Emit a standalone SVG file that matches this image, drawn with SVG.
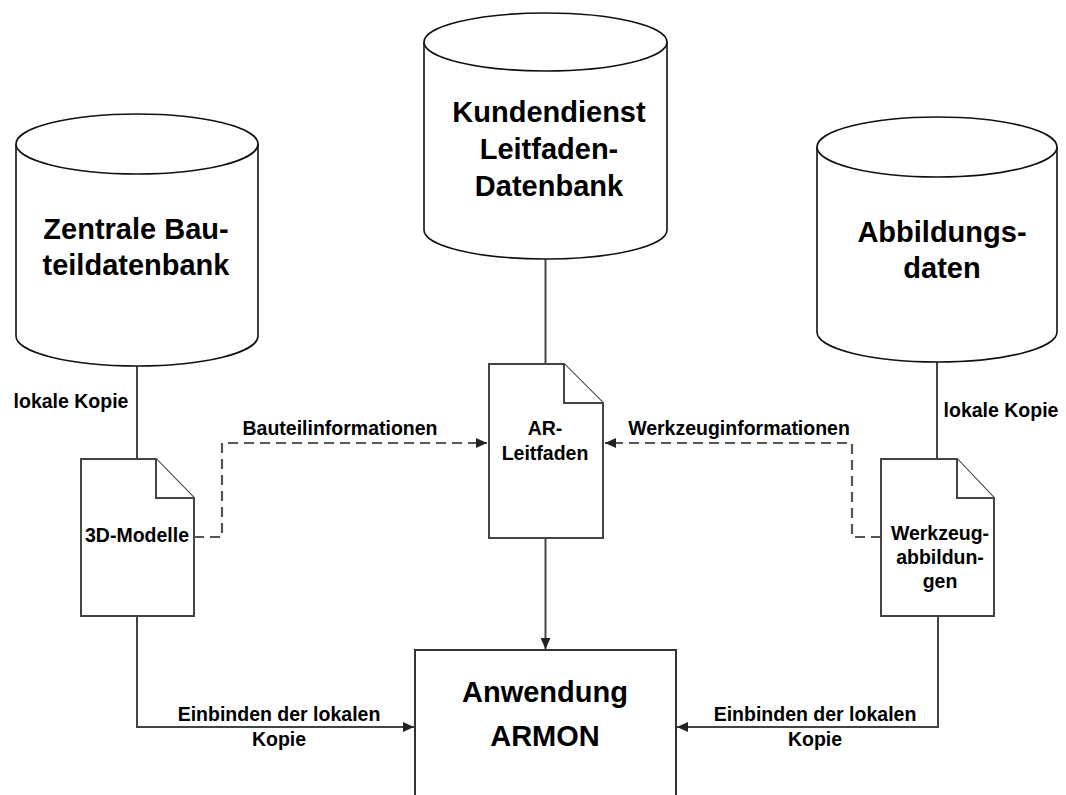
<svg xmlns="http://www.w3.org/2000/svg" width="1066" height="795" viewBox="0 0 1066 795">
<defs>
<marker id="arr" markerUnits="userSpaceOnUse" markerWidth="12" markerHeight="10" refX="11" refY="5" orient="auto">
<path d="M0,0 L11,5 L0,10 Z" fill="#222"/>
</marker>
<style>
.cyl{fill:#fff;stroke:#111;stroke-width:1.6}
.doc{fill:#fff;stroke:#444;stroke-width:2}
.box{fill:#fff;stroke:#333;stroke-width:2}
.ln{fill:none;stroke:#444;stroke-width:2}
.dash{fill:none;stroke:#555;stroke-width:2.2;stroke-dasharray:10,6}
.t{font-family:"Liberation Sans",Arial,sans-serif;font-weight:bold;fill:#000;text-anchor:middle}
.big{font-size:29px}
.sm{font-size:19.5px}
</style>
</defs>
<rect width="1066" height="795" fill="#fff"/>

<g id="connectors">
<path class="ln" d="M137,366 V459"/>
<path class="ln" d="M545.5,259 V364"/>
<path class="ln" d="M937,362 V459"/>
<path class="dash" d="M194,537 H222 V443 H487" marker-end="url(#arr)"/>
<path class="dash" d="M881,537 H852 V443 H605" marker-end="url(#arr)"/>
<path class="ln" d="M545.5,538 V649" marker-end="url(#arr)"/>
<path class="ln" d="M137,616 V727 H414" marker-end="url(#arr)"/>
<path class="ln" d="M938,616 V727 H677" marker-end="url(#arr)"/>
<text class="t sm" x="71" y="408">lokale Kopie</text>
<text class="t sm" x="1001" y="417">lokale Kopie</text>
<text class="t sm" x="340" y="435">Bauteilinformationen</text>
<text class="t sm" x="739" y="435">Werkzeuginformationen</text>
<text class="t sm" x="279" y="721">Einbinden der lokalen</text>
<text class="t sm" x="279" y="746">Kopie</text>
<text class="t sm" x="815" y="721">Einbinden der lokalen</text>
<text class="t sm" x="815" y="746">Kopie</text>
</g>

<g id="db-bauteil">
<path class="cyl" d="M16,144 A121,30 0 0 1 258,144 V336 A121,30 0 0 1 16,336 Z"/>
<path class="cyl" d="M16,144 A121,30 0 0 0 258,144"/>
<text class="t big" x="136" y="239">Zentrale Bau-</text>
<text class="t big" x="136" y="275">teildatenbank</text>
</g>

<g id="db-leitfaden">
<path class="cyl" d="M424,42 A121.5,29 0 0 1 667,42 V230 A121.5,29 0 0 1 424,230 Z"/>
<path class="cyl" d="M424,42 A121.5,29 0 0 0 667,42"/>
<text class="t big" x="549" y="122">Kundendienst</text>
<text class="t big" x="549" y="159">Leitfaden-</text>
<text class="t big" x="549" y="196">Datenbank</text>
</g>

<g id="db-abbildung">
<path class="cyl" d="M817,147 A120,30 0 0 1 1057,147 V332 A120,30 0 0 1 817,332 Z"/>
<path class="cyl" d="M817,147 A120,30 0 0 0 1057,147"/>
<text class="t big" x="942" y="242">Abbildungs-</text>
<text class="t big" x="942" y="278">daten</text>
</g>

<g id="doc-3d">
<path class="doc" d="M81,459 H156 L194,498 V616 H81 Z"/>
<path class="doc" d="M156,459 V498 H194"/>
<text class="t sm" x="137" y="542">3D-Modelle</text>
</g>

<g id="doc-ar">
<path class="doc" d="M489,364 H564 L603,403 V538 H489 Z"/>
<path class="doc" d="M564,364 V403 H603"/>
<text class="t sm" x="545" y="435">AR-</text>
<text class="t sm" x="545" y="460">Leitfaden</text>
</g>

<g id="doc-werkzeug">
<path class="doc" d="M881,459 H957 L994,498 V616 H881 Z"/>
<path class="doc" d="M957,459 V498 H994"/>
<text class="t sm" x="940" y="540">Werkzeug-</text>
<text class="t sm" x="940" y="564">abbildun-</text>
<text class="t sm" x="940" y="588">gen</text>
</g>

<g id="app-armon">
<rect class="box" x="415" y="650" width="261" height="160"/>
<text class="t big" x="545" y="702">Anwendung</text>
<text class="t big" x="545" y="746">ARMON</text>
</g>
</svg>
